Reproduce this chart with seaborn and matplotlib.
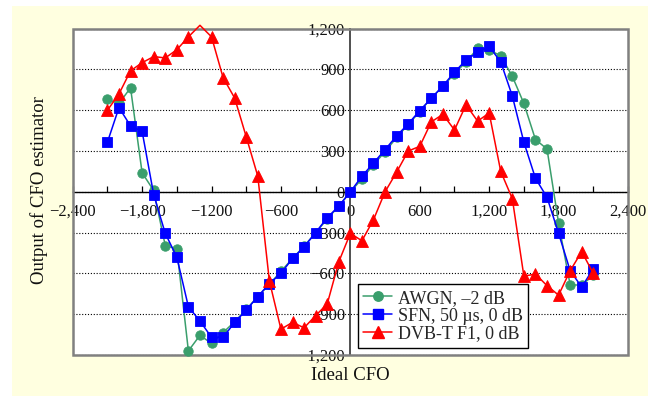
import matplotlib
matplotlib.use("Agg")
import matplotlib.pyplot as plt
from matplotlib.patches import Rectangle
from matplotlib.lines import Line2D
import seaborn as sns
import pandas as pd

# ---------------- data ----------------
ideal_cfo = list(range(-2100, 2101, 100))

awgn = [680, 650, 765, 140, 10, -395, -420, -1170, -1055, -1115,
        -1035, -955, -865, -770, -680, -585, -490, -400, -300, -200,
        -105, 0, 95, 200, 295, 400, 495, 590, 690, 775,
        870, 955, 1055, 1045, 1000, 850, 650, 385, 315, -230,
        -685, -685, -615]

sfn = [365, 620, 485, 445, -20, -305, -480, -845, -950, -1070,
       -1070, -960, -870, -770, -675, -600, -490, -405, -300, -190,
       -105, 0, 115, 212, 310, 412, 500, 598, 688, 780,
       880, 970, 1025, 1070, 955, 705, 365, 100, -40, -305,
       -580, -700, -565]

dvbt = [600, 720, 890, 950, 995, 985, 1045, 1140, 1225, 1140,
        840, 690, 405, 115, -655, -1010, -960, -1000, -910, -825,
        -515, -305, -360, -205, 0, 145, 300, 335, 515, 570,
        455, 640, 520, 580, 150, -50, -620, -605, -690, -760,
        -580, -440, -600]

series_names = ["AWGN, \u20132 dB", "SFN, 50 \u00b5s, 0 dB", "DVB-T F1, 0 dB"]

x_tick_values = [-2400, -1800, -1200, -600, 0, 600, 1200, 1800, 2400]
x_tick_labels = ["\u22122,400", "\u22121,800", "\u22121200", "\u2212600", "0",
                 "600", "1,200", "1,800", "2,400"]
x_minor_ticks = [-2100, -1500, -900, -300, 300, 900, 1500, 2100]
y_tick_values = [-1200, -900, -600, -300, 0, 300, 600, 900, 1200]
y_tick_labels = ["\u22121,200", "\u2212900", "\u2212600", "\u2212300", "0",
                 "300", "600", "900", "1,200"]

# ---------------- style ----------------
sns.set_theme(style="white")
plt.rcParams["font.family"] = ["Liberation Serif", "DejaVu Serif"]

W, H = 648, 396
fig = plt.figure(figsize=(W / 100, H / 100), dpi=100, facecolor="white")
fig.patches.append(Rectangle((12 / W, 0), 1 - 12 / W, 1 - 6 / H,
                             transform=fig.transFigure, facecolor="#FFFFE0",
                             edgecolor="none", zorder=-10))

ax_l, ax_r, ax_t, ax_b = 72.7, 628.0, 28.7, 355.0
ax = fig.add_axes([ax_l / W, 1 - ax_b / H, (ax_r - ax_l) / W, (ax_b - ax_t) / H])
ax.set_facecolor("white")

colors = ["#3A9E6C", "#0000FF", "#FF0000"]
markers = ["o", "s", "^"]
msizes = [6.8, 7.4, 8.0]
data_list = [awgn, sfn, dvbt]

lines = []
for name, vals, c, m, ms in zip(series_names, data_list, colors, markers, msizes):
    df = pd.DataFrame({"x": ideal_cfo, "y": vals})
    sns.lineplot(data=df, x="x", y="y", ax=ax, color=c, marker=m, markersize=ms,
                 markeredgecolor=c, markeredgewidth=0.6, linewidth=1.1,
                 label=name, clip_on=False, zorder=3, legend=False)
    lines.append(ax.lines[-1])

# Points beyond the axis range get no marker (as in the reference)
for ln, vals in zip(lines, data_list):
    idx = [i for i, v in enumerate(vals) if -1200 <= v <= 1200]
    ln.set_markevery(idx)

ax.set_xlim(-2400, 2400)
ax.set_ylim(-1200, 1200)

# center axes
for s in ["top", "right"]:
    ax.spines[s].set_visible(False)
ax.spines["left"].set_position("zero")
ax.spines["bottom"].set_position("zero")
ax.spines["left"].set_color("#505050")
ax.spines["left"].set_linewidth(1.4)
ax.spines["bottom"].set_color("black")
ax.spines["bottom"].set_linewidth(1.0)
ax.spines["left"].set_zorder(2)
ax.spines["bottom"].set_zorder(2)

# frame
ax.add_patch(Rectangle((0, 0), 1, 1, transform=ax.transAxes, fill=False,
                       edgecolor="#808080", linewidth=1.8, zorder=2.5, clip_on=False))

ax.set_xticks(x_tick_values)
ax.set_xticklabels(x_tick_labels)
ax.set_xticks(x_minor_ticks, minor=True)
ax.set_yticks(y_tick_values)
ax.set_yticklabels(y_tick_labels)
ax.tick_params(axis="x", which="both", direction="in", length=4, width=0.9,
               color="black", labelsize=12, pad=8.5, bottom=True)
ax.tick_params(axis="y", which="both", length=0, labelsize=12, pad=4, left=True)
for lab in ax.get_xticklabels() + ax.get_yticklabels():
    lab.set_color("#111111")

ax.yaxis.grid(True, linestyle=(0, (1, 1.6)), color="black", linewidth=0.8)
ax.xaxis.grid(False)
ax.set_axisbelow(True)
ax.set_xlabel("")
ax.set_ylabel("")

fig.text(39 / W, 1 - 190 / H, "Output of CFO estimator", rotation=90,
         ha="center", va="center", fontsize=13.5, color="#111111")
fig.text(350 / W, 1 - 375 / H, "Ideal CFO", ha="center", va="center",
         fontsize=13.5, color="#111111")

handles = [Line2D([], [], color=c, marker=m, markersize=ms, markeredgecolor=c,
                  linewidth=1.1) for c, m, ms in zip(colors, markers, msizes)]
leg = ax.legend(handles, series_names, loc="lower left",
                bbox_to_anchor=((358 - ax_l) / (ax_r - ax_l), (ax_b - 348) / (ax_b - ax_t)),
                borderaxespad=0, frameon=True, fancybox=False, fontsize=13,
                handlelength=1.6, handletextpad=0.3, labelspacing=0.05,
                borderpad=0.3, framealpha=1)
leg.get_frame().set_edgecolor("black")
leg.get_frame().set_linewidth(1.0)
leg.set_zorder(5)

fig.savefig("out.png", dpi=100)
